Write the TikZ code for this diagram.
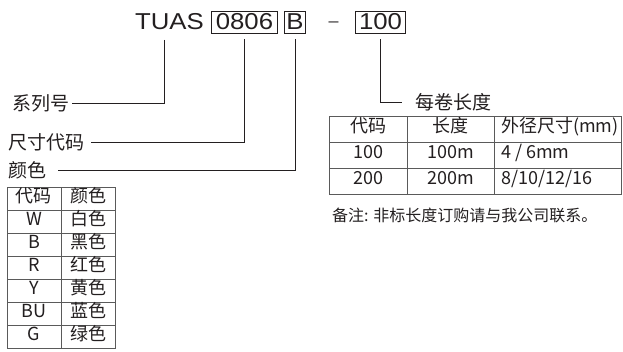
\documentclass[tikz,border=0pt]{standalone}
\usepackage{fontspec}
\setmainfont{Liberation Sans}
\newfontfamily\codefont[FakeStretch=1.12]{Liberation Sans}
\newfontfamily\cjk{Noto Sans CJK SC}
\usetikzlibrary{positioning}
\definecolor{ink}{RGB}{35,31,32}
\definecolor{rulegray}{RGB}{90,90,90}

\begin{document}
\begin{tikzpicture}[x=1pt,y=-1pt,
	code/.style={font=\codefont\fontsize{23}{23}\selectfont,text=ink,inner sep=0pt},
	code box/.style={code,draw=ink,line width=0.9pt,minimum height=22pt},
	part name/.style={font=\cjk\fontsize{19}{19}\selectfont,text=ink,inner sep=1pt},
	cell/.style={font=\cjk\fontsize{18}{18}\selectfont,text=ink,inner sep=0pt,
		text height=0.85em,text depth=0.12em},
	lead/.style={draw=ink,line width=0.9pt,shorten <=6pt},
	table line/.style={draw=rulegray,line width=0.8pt}]
	
	\useasboundingbox (0,0) rectangle (623,351);
	
	\node[code,anchor=base] (tuas) at (169.5,29.5) {TUAS};
	\node[code box,minimum width=66pt] (size) at (244.5,22) {0806};
	\node[code box,minimum width=21pt] (color) at (295,22) {B};
	\node[code,anchor=base,font=\codefont\fontsize{16}{16}\selectfont] (dash) at (333.5,26.3) {–};
	\node[code box,minimum width=50pt] (len) at (380.5,22) {100};
	
	\node[part name,anchor=west] (series) at (11,103) {系列号};
	\node[part name,anchor=west] (sizename) at (7,142) {尺寸代码};
	\node[part name,anchor=west] (colorname) at (7,170) {颜色};
	\node[part name,anchor=west] (lenname) at (414,102) {每卷长度};
	
	\draw[lead,shorten <=10pt,shorten >=2pt] ([xshift=-5.5pt]tuas.south) |- (series.east);
	\draw[lead,shorten >=6pt] (size.south) |- (sizename.east);
	\draw[lead,shorten >=11pt] (color.south) |- (colorname.east);
	\draw[lead,shorten >=12pt] (len.south) |- (lenname.west);
	
	% length table
	\draw[table line] (329,116) rectangle (621,194);
	\draw[table line] (329,142) -- (621,142) (329,168) -- (621,168)
		(407,116) -- (407,194) (494,116) -- (494,194);
	\node[cell] (hcode) at (368,129) {代码};
	\node[cell] (hlen) at (450.5,129) {长度};
	\node[cell,anchor=west] (hdia) at (501,129) {外径尺寸(mm)};
	\node[cell] (code1) at (368,155) {100};
	\node[cell] (len1) at (450.5,155) {100m};
	\node[cell,anchor=west] (dia1) at (501,155) {4 / 6mm};
	\node[cell] (code2) at (368,181) {200};
	\node[cell] (len2) at (450.5,181) {200m};
	\node[cell,anchor=west] (dia2) at (501,181) {8/10/12/16};
	
	\node[font=\cjk\fontsize{16}{16}\selectfont,text=ink,inner sep=0pt,anchor=west]
		(note) at (332,215) {备注: 非标长度订购请与我公司联系。};
	
	% color table
	\draw[table line] (7,187) rectangle (115,348) (61,187) -- (61,348);
	\foreach \y in {210,233,...,325}
		\draw[table line] (7,\y) -- (115,\y);
	\foreach \c/\n [count=\i] in {代码/颜色,W/白色,B/黑色,R/红色,Y/黄色,BU/蓝色,G/绿色}{
		\node[cell] (ccode\i) at (34,175.5+23*\i) {\c};
		\node[cell] (cname\i) at (88,175.5+23*\i) {\n};
	}
\end{tikzpicture}
\end{document}
